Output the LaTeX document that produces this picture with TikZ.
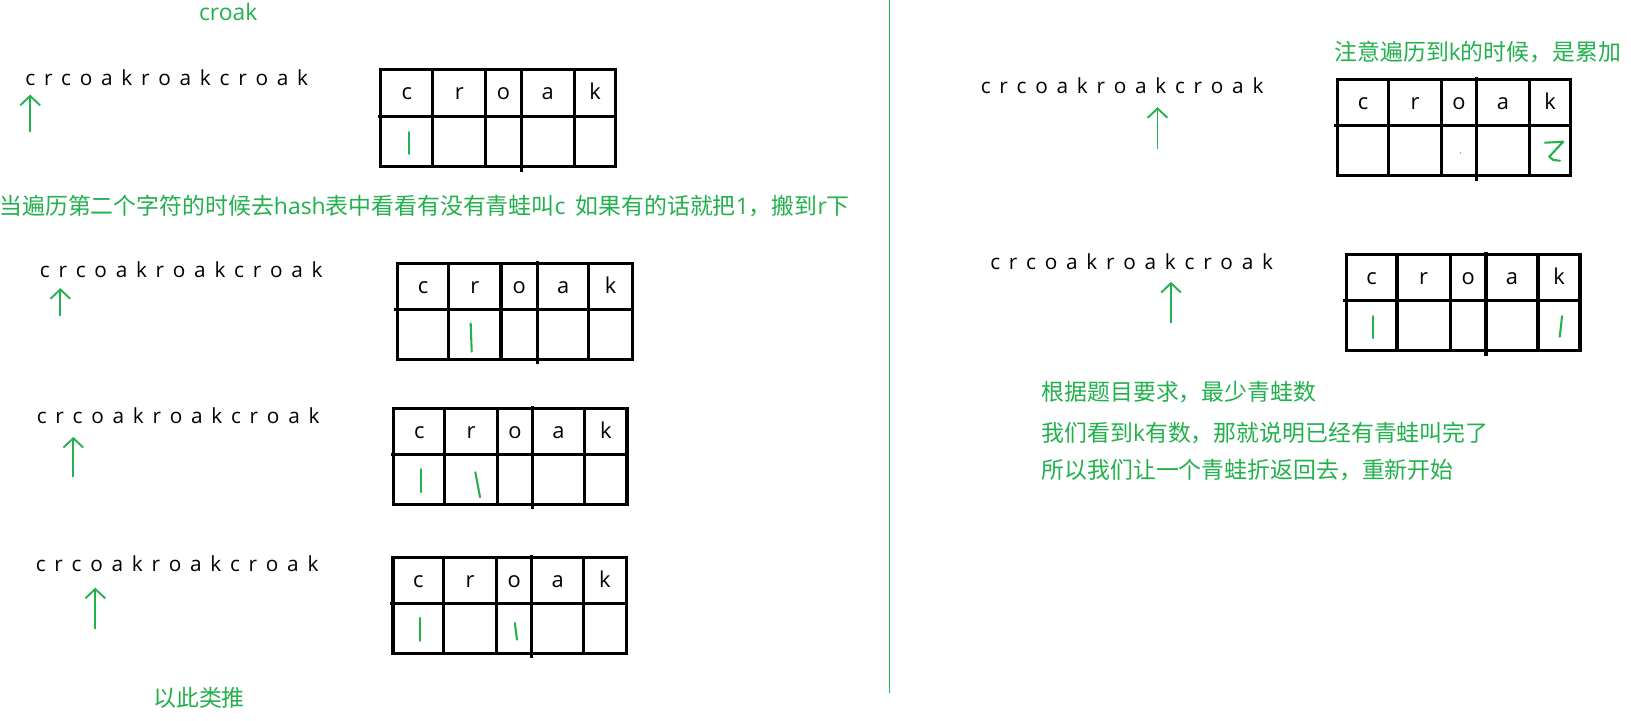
\documentclass[tikz,border=0pt]{standalone}
\usepackage{fontspec}
\setmainfont{Open Sans}
\newfontfamily\cjk{Noto Sans CJK SC}
\usetikzlibrary{arrows.meta}
\definecolor{frog}{RGB}{34,177,76}
\newcommand{\strfont}{\fontsize{10}{12}\selectfont\spaceskip=4.2pt\relax}
% #1 name, #2 left, #3-#6 column lines, #7 right, #8 top, #9 middle line
\newcommand{\ftable}[9]{%
  \coordinate (#1-nw) at (#2,#8);
  \coordinate (#1-se) at (#7,#9+48);
  \draw[grid] (#1-nw) rectangle (#1-se);
  \draw[grid] (#2-3,#9) -- (#7,#9);
  \draw[grid] (#3,#8) -- (#3,#9+48);
  \draw[grid] (#4,#8) -- (#4,#9+48);
  \draw[grid] (#5,#8-2) -- (#5,#9+53);
  \draw[grid] (#6,#8) -- (#6,#9+48);
  \node[hdr] (#1-c) at ({(#2+#3)/2},#8+29) {c};
  \node[hdr] (#1-r) at ({(#3+#4)/2},#8+29) {r};
  \node[hdr] (#1-o) at ({(#4+#5)/2},#8+29) {o};
  \node[hdr] (#1-a) at ({(#5+#6)/2},#8+29) {a};
  \node[hdr] (#1-k) at ({(#6+#7)/2},#8+29) {k};
}
\begin{document}
\begin{tikzpicture}[x=0.5pt,y=-0.5pt,
  grid/.style={line width=1.5pt,black},
  hdr/.style={font=\fontsize{10.5}{12}\selectfont,inner sep=0pt,anchor=base},
  str/.style={font=\strfont,inner sep=0pt,anchor=base west},
  note/.style={font=\fontsize{11}{13}\selectfont,text=frog,inner sep=0pt,anchor=base west},
  tally/.style={frog,line width=1pt,line cap=round},
  ptr/.style={frog,line width=0.9pt,-{Straight Barb[length=4.5pt,width=9.5pt]}},
  divider/.style={frog,line width=0.7pt}]
\useasboundingbox[fill=white] (0,0) rectangle (1568,692.2);

% divider
\coordinate (dtop) at (855,0);
\coordinate (dbot) at (855,666);
\draw[divider] (dtop) -- (dbot);

% ---------- left column ----------
\node[note] (title) at (191,20) {croak};

\node[str] (s1) at (24,82) {c r c o a k r o a k c r o a k};
\coordinate (a1t) at (29,127); \coordinate (a1h) at (29,91);
\draw[ptr] (a1t) -- (a1h);
\ftable{t1}{366}{416}{467}{501}{552}{592}{67}{112}
\draw[tally] (393,127) -- (393,148);

\node[note] (n1) at (-1,206) {{\cjk 当遍历第二个字符的时候去}hash{\cjk 表中看看有没有青蛙叫}c};
\node[note] (n2) at (553,206) {{\cjk 如果有的话就把}1{\cjk ，搬到}r{\cjk 下}};

\node[str] (s2) at (38,267) {c r c o a k r o a k c r o a k};
\coordinate (a2t) at (58,304); \coordinate (a2h) at (58,277);
\draw[ptr] (a2t) -- (a2h);
\ftable{t2}{382}{431.5}{481.6}{516.7}{566}{607.8}{253}{297.4}
\draw[tally] (452.5,311) -- (453.5,338);

\node[str] (s3) at (35,407) {c r c o a k r o a k c r o a k};
\coordinate (a3t) at (70.5,459); \coordinate (a3h) at (70.5,420);
\draw[ptr] (a3t) -- (a3h);
\ftable{t3}{378.6}{427.6}{478.2}{512}{561.9}{602.8}{392.5}{436.8}
\draw[tally] (404.5,451) -- (404.5,473);
\draw[tally] (457,454) -- (461.5,478);

\node[str] (s4) at (34,549.6) {c r c o a k r o a k c r o a k};
\coordinate (a4t) at (91.6,605); \coordinate (a4h) at (91.6,565);
\draw[ptr] (a4t) -- (a4h);
\ftable{t4}{377.8}{426.5}{477.4}{511.3}{561}{602}{535.8}{580}
\draw[tally] (403.6,594) -- (403.6,616);
\draw[tally] (495,599) -- (497,615);

\node[note] (n3) at (147,679) {\cjk 以此类推};

% ---------- right column ----------
\node[note] (n4) at (1282.5,58.4) {{\cjk 注意遍历到}k{\cjk 的时候，是累加}};

\node[str] (s5) at (942.5,89.7) {c r c o a k r o a k c r o a k};
\coordinate (a5t) at (1112.8,143); \coordinate (a5h) at (1112.8,103);
\draw[ptr] (a5t) -- (a5h);
\ftable{t5}{1285.9}{1334.7}{1386}{1419.3}{1470.3}{1510}{76.3}{120.8}
\draw[tally,line join=round] (1485.3,137.2) -- (1502.9,136.2) -- (1489.4,150.6) -- (1493.3,153.8) -- (1499.7,154.5);
\fill[black!40] (1404,147) circle (0.8);

\node[str] (s6) at (951.7,259) {c r c o a k r o a k c r o a k};
\coordinate (a6t) at (1125.8,310.7); \coordinate (a6h) at (1125.8,271);
\draw[ptr] (a6t) -- (a6h);
\ftable{t6}{1294.2}{1343}{1394.3}{1428.6}{1478.6}{1519}{244.5}{289}
\draw[tally] (1320,304) -- (1320,325);
\draw[tally] (1501.7,304) -- (1499.5,323.7);

\node[note] (n5) at (1001,385.4) {\cjk 根据题目要求，最少青蛙数};
\node[note] (n6) at (1001,424.2) {{\cjk 我们看到}k{\cjk 有数，那就说明已经有青蛙叫完了}};
\node[note] (n7) at (1001,460.2) {\cjk 所以我们让一个青蛙折返回去，重新开始};
\end{tikzpicture}
\end{document}
